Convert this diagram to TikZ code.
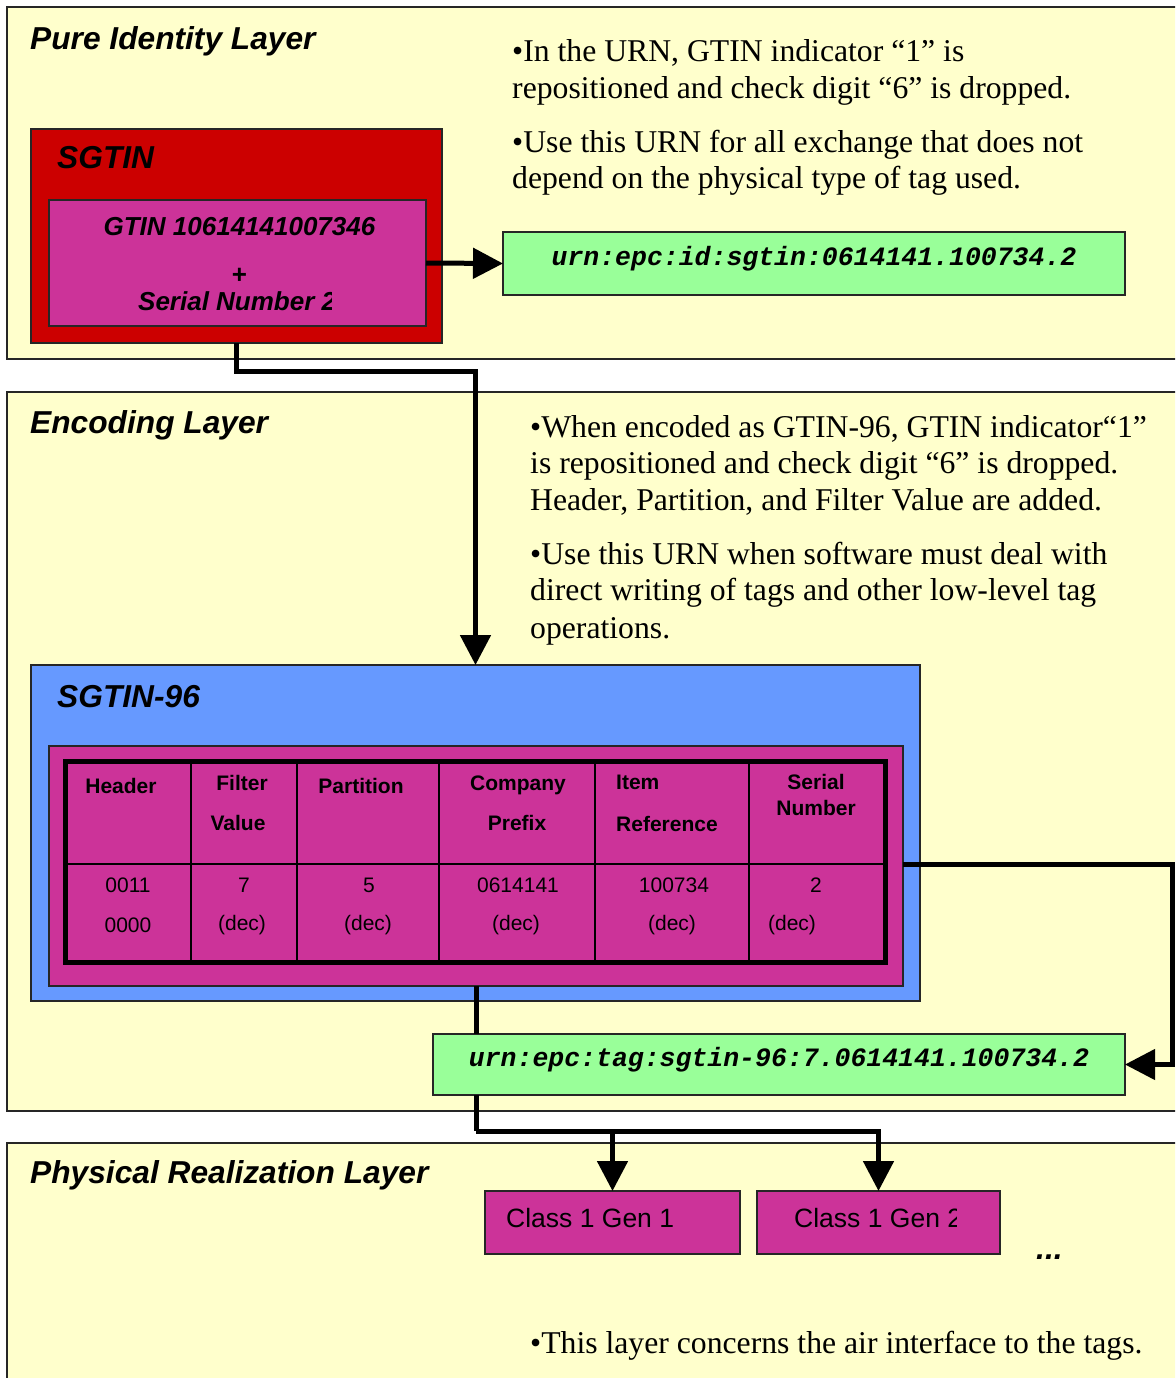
\documentclass[tikz,border=0pt]{standalone}
\usepackage{fontspec}
\setmainfont{Liberation Serif}
\setsansfont{Liberation Sans}
\setmonofont{Liberation Mono}
\usetikzlibrary{arrows.meta}
\definecolor{layerY}{HTML}{FFFFCC}
\definecolor{sgRed}{HTML}{CC0000}
\definecolor{mag}{HTML}{CC3399}
\definecolor{urnG}{HTML}{99FF99}
\definecolor{sgBlue}{HTML}{6699FF}
\begin{document}
\begin{tikzpicture}[x=1pt,y=-1pt,
  box/.style={draw=black!85, line width=1.5pt, anchor=north west, inner sep=0pt, outer sep=0pt},
  layer/.style={box, fill=layerY},
  titletext/.style={font=\sffamily\bfseries\itshape\fontsize{31.7}{38}\selectfont, anchor=base west, inner sep=0pt},
  bodytext/.style={font=\rmfamily\fontsize{31.7}{38}\selectfont, anchor=base west, inner sep=0pt},
  urntext/.style={font=\ttfamily\bfseries\itshape\fontsize{26.5}{30}\selectfont, anchor=base, inner sep=0pt},
  boxtext/.style={font=\sffamily\bfseries\itshape\fontsize{26}{30}\selectfont, anchor=base, inner sep=0pt},
  classtext/.style={font=\sffamily\fontsize{26.5}{30}\selectfont, anchor=base west, inner sep=0pt},
  thtext/.style={font=\sffamily\bfseries\fontsize{21}{25}\selectfont, anchor=base, inner sep=0pt},
  tdtext/.style={font=\sffamily\fontsize{21}{25}\selectfont, anchor=base, inner sep=0pt},
  gridline/.style={line width=1.5pt, draw=black},
  conn/.style={line width=5pt},
  tip/.style={-{Triangle[length=30pt,width=30pt]}}
]
\useasboundingbox (0,0) rectangle (1175,1378);
\clip (0,0) rectangle (1175,1378);
\fill[white] (0,0) rectangle (1175,1378);

% layers
\node[layer, minimum width=1180pt, minimum height=352pt] (pure) at (7,7) {};
\node[layer, minimum width=1180pt, minimum height=719pt] (enc) at (7,392) {};
\node[layer, minimum width=1180pt, minimum height=300pt] (phys) at (7,1143) {};

\node[titletext] (pureT) at (30,50) {Pure Identity Layer};
\node[titletext] (encT) at (30,433) {Encoding Layer};
\node[titletext] (physT) at (30,1183) {Physical Realization Layer};

% pure identity texts
\node[bodytext] (p1a) at (512,62) {\textbullet{}In the URN, GTIN indicator “1” is};
\node[bodytext] (p1b) at (512,99) {repositioned and check digit “6” is dropped.};
\node[bodytext] (p2a) at (512,152) {\textbullet{}Use this URN for all exchange that does not};
\node[bodytext] (p2b) at (512,188) {depend on the physical type of tag used.};

% SGTIN box
\node[box, fill=sgRed, minimum width=411pt, minimum height=214pt] (sgtin) at (31,129) {};
\node[titletext] (sgtinT) at (57,168) {SGTIN};
\node[box, fill=mag, minimum width=377pt, minimum height=126pt] (gtin) at (49,200) {};
\node[boxtext] (gtinA) at (239.5,235) {GTIN 10614141007346};
\node[boxtext] (gtinB) at (239,283) {+};
\begin{scope}
  \clip (49,200) rectangle (331,326);
  \node[boxtext, anchor=base west] (gtinC) at (138,310) {Serial Number 2};
\end{scope}

% urn 1
\node[box, fill=urnG, minimum width=622pt, minimum height=63pt] (urn1) at (503,232) {};
\node[urntext] (urn1T) at (814,265) {urn:epc:id:sgtin:0614141.100734.2};

% encoding texts
\node[bodytext] (e1a) at (530,437) {\textbullet{}When encoded as GTIN-96, GTIN indicator“1”};
\node[bodytext] (e1b) at (530,473) {is repositioned and check digit “6” is dropped.};
\node[bodytext] (e1c) at (530,510) {Header, Partition, and Filter Value are added.};
\node[bodytext] (e2a) at (530,564) {\textbullet{}Use this URN when software must deal with};
\node[bodytext] (e2b) at (530,600) {direct writing of tags and other low-level tag};
\node[bodytext] (e2c) at (530,638) {operations.};

% SGTIN-96
\node[box, fill=sgBlue, minimum width=889pt, minimum height=336pt] (sg96) at (31,665) {};
\node[titletext] (sg96T) at (57,707) {SGTIN-96};
\node[box, fill=mag, minimum width=854pt, minimum height=240pt] (tblbg) at (49,746) {};

% table grid
\draw[gridline] (65.5,864) -- (885.5,864);
\foreach \cx in {191,297,439,595,749}{
  \draw[gridline] (\cx,761.5) -- (\cx,962.5);
}
\node[draw=black, line width=5pt, anchor=north west, inner sep=0pt, outer sep=0pt,
      minimum width=820pt, minimum height=201pt] (tbl) at (65.5,761.5) {};

\node[thtext] (hHeader) at (121,793) {Header};
\node[thtext] (hFilter) at (242,790) {Filter};
\node[thtext] (hValue) at (238,830) {Value};
\node[thtext] (hPart) at (361,793) {Partition};
\node[thtext] (hComp) at (518,790) {Company};
\node[thtext] (hPref) at (517,830) {Prefix};
\node[thtext, anchor=base west] (hItem) at (616,789) {Item};
\node[thtext, anchor=base west] (hRef) at (616,831) {Reference};
\node[thtext] (hSer) at (816,789) {Serial};
\node[thtext] (hNum) at (816,815) {Number};

\node[tdtext] (v1a) at (128,892) {0011};
\node[tdtext] (v1b) at (128,932) {0000};
\node[tdtext] (v2a) at (244,892) {7};
\node[tdtext] (v2b) at (242,930) {(dec)};
\node[tdtext] (v3a) at (369,892) {5};
\node[tdtext] (v3b) at (368,930) {(dec)};
\node[tdtext] (v4a) at (518,892) {0614141};
\node[tdtext] (v4b) at (516,930) {(dec)};
\node[tdtext] (v5a) at (674,892) {100734};
\node[tdtext] (v5b) at (672,930) {(dec)};
\node[tdtext] (v6a) at (816,892) {2};
\node[tdtext] (v6b) at (792,930) {(dec)};

% urn 2
\node[box, fill=urnG, minimum width=692pt, minimum height=61pt] (urn2) at (433,1034) {};
\node[urntext] (urn2T) at (779,1066) {urn:epc:tag:sgtin-96:7.0614141.100734.2};

% physical layer
\node[box, fill=mag, minimum width=255pt, minimum height=63pt] (c1) at (485,1191) {};
\node[box, fill=mag, minimum width=243pt, minimum height=63pt] (c2) at (757,1191) {};
\node[classtext] (c1T) at (506,1227) {Class 1 Gen 1};
\begin{scope}
  \clip (757,1191) rectangle (956,1254);
  \node[classtext] (c2T) at (794,1227) {Class 1 Gen 2};
\end{scope}
\node[titletext] (dots) at (1036,1259) {...};
\node[bodytext] (ph1) at (530,1353) {\textbullet{}This layer concerns the air interface to the tags.};

% connectors
\draw[conn, tip] (gtin.east) -- (urn1.west);
\draw[conn, tip] (sgtin.south) -- ++(0,28) -| (sg96.north);
\coordinate (rowR) at (903,864.5);
\draw[line width=4.5pt, tip] (rowR) -- ++(269.5,0) |- (urn2.east);
\draw[conn] (tblbg.south) -- (tblbg.south |- urn2.north);
\draw[conn] (tblbg.south |- urn2.south) -- ++(0,36) coordinate (split);
\draw[conn, tip] (split) -| (c2.north);
\draw[conn, tip] (split -| c1.north) -- (c1.north);
\end{tikzpicture}
\end{document}
